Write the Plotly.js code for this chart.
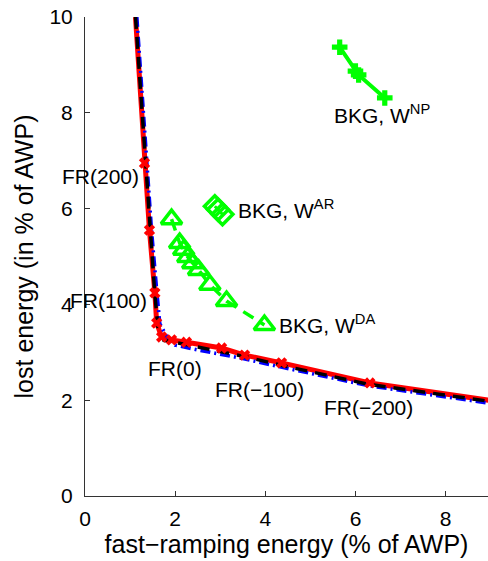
<!DOCTYPE html>
<html>
<head>
<meta charset="utf-8">
<script src="https://cdn.plot.ly/plotly-3.0.1.min.js"></script>
<style>html,body{margin:0;padding:0;background:#fff;}#chart{width:488px;height:561px;}</style>
</head>
<body>
<div id="chart"></div>
<script>
// Red frontier (solid)
const redX = [1.12, 1.32, 1.43, 1.55, 1.59, 1.70, 1.92, 2.25, 3.03, 3.54, 4.36, 6.32, 8.95];
const redY = [10.0, 6.95, 5.55, 4.24, 3.61, 3.32, 3.26, 3.21, 3.09, 2.94, 2.78, 2.36, 2.00];
// Black frontier (dashed)
const blackX = [1.12, 1.35, 1.45, 1.55, 1.62, 1.75, 2.30, 3.50, 4.40, 6.30, 8.95];
const blackY = [10.0, 6.90, 5.50, 4.20, 3.50, 3.25, 3.15, 2.92, 2.72, 2.33, 1.98];
// Blue frontier (dash-dot)
const blueX = [1.15, 1.38, 1.48, 1.60, 1.66, 1.80, 2.00, 2.50, 3.50, 4.40, 6.30, 8.95];
const blueY = [10.0, 6.90, 5.50, 4.20, 3.60, 3.35, 3.15, 3.05, 2.87, 2.68, 2.30, 1.94];
// BKG, W^NP
const npX = [5.65, 6.00, 6.07, 6.65];
const npY = [9.37, 8.87, 8.79, 8.31];
// BKG, W^AR
const arX = [2.88, 2.95, 3.05];
const arY = [6.05, 5.98, 5.88];
// BKG, W^DA
const daX = [1.92, 2.10, 2.19, 2.28, 2.39, 2.52, 2.77, 3.14, 3.98];
const daY = [5.78, 5.28, 5.14, 4.99, 4.86, 4.72, 4.41, 4.07, 3.57];
// tick values
const xTicks = [0, 2, 4, 6, 8];
const yTicks = [0, 2, 4, 6, 8, 10];

const green = '#00ff00';
const traces = [
  {x: redX, y: redY, mode: 'lines', line: {color: '#ff0000', width: 5}, hoverinfo: 'skip'},
  {x: blueX, y: blueY, mode: 'lines', line: {color: '#0000ff', width: 3.5, dash: '10px,4px,2px,4px'}, hoverinfo: 'skip'},
  {x: blackX, y: blackY, mode: 'lines', line: {color: '#000000', width: 3.5, dash: '12px,8px'}, hoverinfo: 'skip'},
  {x: redX.slice(1, -1), y: redY.slice(1, -1), mode: 'markers',
   marker: {symbol: 'x', size: 10, color: '#ff0000', line: {width: 0}}},
  {x: npX, y: npY, mode: 'lines+markers', line: {color: green, width: 4},
   marker: {symbol: 'cross', size: 13, color: green}},
  {x: arX, y: arY, mode: 'lines+markers', line: {color: green, width: 3},
   marker: {symbol: 'diamond-open', size: 16, color: green, line: {width: 3.5, color: green}}},
  {x: daX, y: daY, mode: 'lines+markers', line: {color: green, width: 3.5, dash: '12px,8px'},
   marker: {symbol: 'triangle-up-open', size: 18, color: green, line: {width: 3.5, color: green}}}
];

const fnt = {family: 'Liberation Sans, Arial, sans-serif', size: 21, color: '#000'};
const ann = (x, y, text, xa) => ({x: x, y: y, xref: 'x', yref: 'y', text: text, showarrow: false,
  xanchor: xa || 'center', yanchor: 'middle', font: fnt});

const layout = {
  width: 488, height: 561,
  margin: {l: 85, r: 0, t: 17, b: 65},
  paper_bgcolor: '#fff', plot_bgcolor: '#fff',
  showlegend: false,
  font: fnt,
  xaxis: {range: [0, 8.94], tickvals: xTicks, ticktext: xTicks.map(String), ticks: 'inside', ticklen: 5,
    tickcolor: '#333', showline: true, linecolor: '#333', linewidth: 1, showgrid: false, zeroline: false,
    tickfont: fnt, automargin: false, ticklabelstandoff: 4,
    title: {text: 'fast\u2212ramping energy (% of AWP)', font: {family: fnt.family, size: 25, color: '#000'}, standoff: 4}},
  yaxis: {range: [0, 10], tickvals: yTicks, ticktext: yTicks.map(String), ticks: 'inside', ticklen: 5,
    tickcolor: '#333', showline: true, linecolor: '#333', linewidth: 1, showgrid: false, zeroline: false,
    tickfont: fnt, automargin: false, ticklabelstandoff: 7,
    title: {text: 'lost energy (in % of AWP)', font: {family: fnt.family, size: 25, color: '#000'}, standoff: 8}},
  annotations: [
    ann(0.35, 6.66, 'FR(200)'),
    ann(0.53, 4.09, 'FR(100)'),
    ann(1.99, 2.67, 'FR(0)'),
    ann(3.87, 2.23, 'FR(\u2212100)'),
    ann(6.29, 1.84, 'FR(\u2212200)'),
    ann(5.49, 7.98, 'BKG, W<sup>NP</sup>', 'left'),
    ann(3.34, 6.00, 'BKG, W<sup>AR</sup>', 'left'),
    ann(4.27, 3.60, 'BKG, W<sup>DA</sup>', 'left')
  ]
};

Plotly.newPlot('chart', traces, layout, {displayModeBar: false, staticPlot: true});
</script>
</body>
</html>
